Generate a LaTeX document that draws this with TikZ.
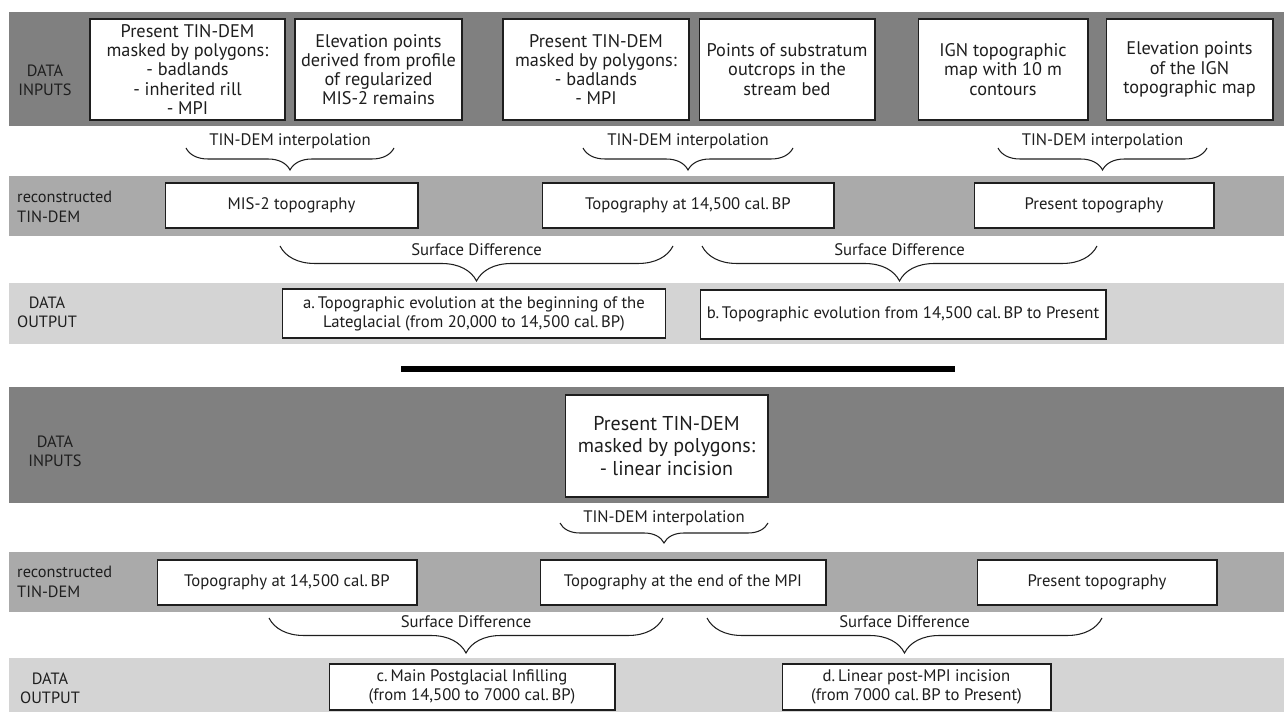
\documentclass[tikz,border=0pt]{standalone}
\usepackage{fontspec}
\setmainfont{PT Sans}
\usetikzlibrary{decorations.pathreplacing}
\definecolor{bandDark}{RGB}{128,128,128}
\definecolor{bandMid}{RGB}{170,170,170}
\definecolor{bandLight}{RGB}{212,212,212}
\definecolor{ink}{RGB}{30,30,30}
\begin{document}
\begin{tikzpicture}[x=0.02cm, y=-0.02cm,
    every node/.style={font=\fontsize{9.5}{10.8}\selectfont, text=ink},
    box/.style={draw=ink, fill=white, line width=0.6pt, align=center, inner sep=1pt},
    inbox/.style={box, font=\fontsize{10.4}{10.9}\selectfont},
    row/.style={font=\fontsize{9.3}{10.8}\selectfont, align=center},
    rec/.style={font=\fontsize{9.3}{11}\selectfont, align=left, anchor=west},
    brc/.style={draw=ink, line width=0.6pt, decorate, decoration={brace, mirror, amplitude=#1}},
    lbl/.style={midway, yshift=#1}]
  \useasboundingbox (0,0) rectangle (1284,712);
  % Bands
  \fill[bandDark] (9,12) rectangle (1284,126);
  \fill[bandMid] (9,176) rectangle (1284,236);
  \fill[bandLight] (9,283) rectangle (1284,344);
  \fill[black] (401,366) rectangle (955,372);
  \fill[bandDark] (9,387) rectangle (1284,503);
  \fill[bandMid] (9,552) rectangle (1284,612);
  \fill[bandLight] (9,658) rectangle (1284,712);
  % Row labels
  \node[row] (lin1) at (45,80) {DATA\\INPUTS};
  \node[rec] (lrec1) at (11,207) {reconstructed\\TIN-DEM};
  \node[row] (lout1) at (47,312) {DATA\\OUTPUT};
  \node[row] (lin2) at (55,451) {DATA\\INPUTS};
  \node[rec] (lrec2) at (11,582) {reconstructed\\TIN-DEM};
  \node[row] (lout2) at (50,688) {DATA\\OUTPUT};
  % Data inputs (upper)
  \node[inbox, minimum width=3.9cm, minimum height=2.02cm] (in1) at (187.5,69.5) {Present TIN-DEM\\masked by polygons:\\- badlands\\- inherited rill\\- MPI};
  \node[inbox, minimum width=3.34cm, minimum height=2.02cm] (in2) at (378.5,69.5) {Elevation points\\derived from profile\\of regularized\\MIS-2 remains};
  \node[inbox, minimum width=3.72cm, minimum height=2.02cm] (in3) at (596,69.5) {Present TIN-DEM\\masked by polygons:\\- badlands\\- MPI};
  \node[inbox, minimum width=3.52cm, minimum height=2.02cm] (in4) at (787,69.5) {Points of substratum\\outcrops in the\\stream bed};
  \node[inbox, minimum width=3.4cm, minimum height=2.02cm] (in5) at (1003,69.5) {IGN topographic\\map with 10 m\\contours};
  \node[inbox, minimum width=3.34cm, minimum height=2.02cm] (in6) at (1189.5,69.5) {Elevation points\\of the IGN\\topographic map};
  % Reconstructed TIN-DEM (upper)
  \node[box, minimum width=5.06cm, minimum height=0.9cm] (mis2) at (291.5,205.5) {MIS-2 topography};
  \node[box, minimum width=5.84cm, minimum height=0.9cm] (topa) at (688,205.5) {Topography at 14,500 cal.\,BP};
  \node[box, minimum width=4.8cm, minimum height=0.9cm] (pres1) at (1094,205.5) {Present topography};
  % Data output (upper)
  \node[box, minimum width=7.68cm, minimum height=0.98cm] (outa) at (474,313.5) {a.\,Topographic evolution at the beginning of the\\Lateglacial (from 20,000 to 14,500 cal.\,BP)};
  \node[box, minimum width=8.12cm, minimum height=0.98cm] (outb) at (903,314.5) {b.\,Topographic evolution from 14,500 cal.\,BP to Present};
  % Data inputs (lower)
  \node[box, font=\fontsize{11.4}{12.7}\selectfont, minimum width=4.06cm, minimum height=2.04cm] (in7) at (666.5,446) {Present TIN-DEM\\masked by polygons:\\- linear incision};
  % Reconstructed TIN-DEM (lower)
  \node[box, minimum width=5.2cm, minimum height=0.9cm] (topb) at (287,582.5) {Topography at 14,500 cal.\,BP};
  \node[box, minimum width=5.72cm, minimum height=0.9cm] (tmpi) at (683,582.5) {Topography at the end of the MPI};
  \node[box, minimum width=4.8cm, minimum height=0.9cm] (pres2) at (1097,582.5) {Present topography};
  % Data output (lower)
  \node[box, minimum width=5.72cm, minimum height=0.92cm] (outc) at (472,687) {c.\,Main Postglacial Infilling\\(from 14,500 to 7000 cal.\,BP)};
  \node[box, minimum width=5.38cm, minimum height=0.92cm] (outd) at (916.5,687) {d.\,Linear post-MPI incision\\(from 7000 cal.\,BP to Present)};
  % Brace ends
  \coordinate (i1w) at (186,148);  \coordinate (i1e) at (394,148);
  \coordinate (i2w) at (583,148);  \coordinate (i2e) at (793,148);
  \coordinate (i3w) at (998,148);  \coordinate (i3e) at (1207,148);
  \coordinate (d1w) at (280,246);  \coordinate (d1e) at (673,246);
  \coordinate (d2w) at (702,246);  \coordinate (d2e) at (1097,246);
  \coordinate (i4w) at (560,523);  \coordinate (i4e) at (768,523);
  \coordinate (d3w) at (269,618);  \coordinate (d3e) at (663,618);
  \coordinate (d4w) at (707,618);  \coordinate (d4e) at (1102,618);
  % TIN-DEM interpolation
  \draw[brc=0.44cm] (i1w) -- node[lbl=4pt]{TIN-DEM interpolation} (i1e);
  \draw[brc=0.44cm] (i2w) -- node[lbl=4pt]{TIN-DEM interpolation} (i2e);
  \draw[brc=0.44cm] (i3w) -- node[lbl=4pt]{TIN-DEM interpolation} (i3e);
  \draw[brc=0.4cm] (i4w) -- node[lbl=2.5pt]{TIN-DEM interpolation} (i4e);
  % Surface difference
  \draw[brc=0.7cm] (d1w) -- node[lbl=-2pt]{Surface Difference} (d1e);
  \draw[brc=0.7cm] (d2w) -- node[lbl=-2pt]{Surface Difference} (d2e);
  \draw[brc=0.7cm] (d3w) -- node[lbl=-2pt]{Surface Difference} (d3e);
  \draw[brc=0.7cm] (d4w) -- node[lbl=-2pt]{Surface Difference} (d4e);
\end{tikzpicture}
\end{document}
